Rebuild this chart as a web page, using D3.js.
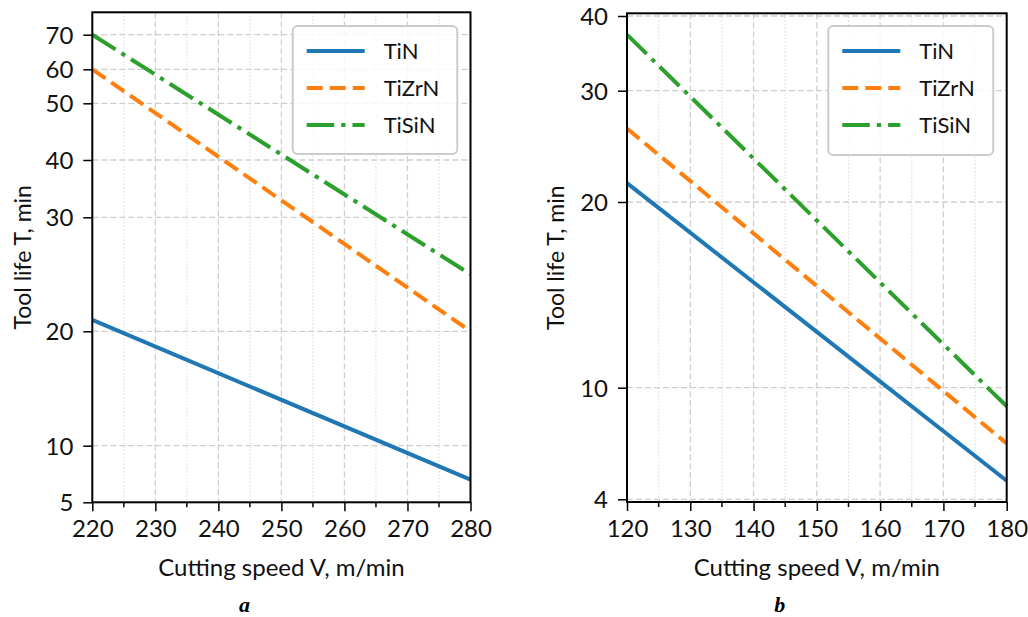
<!DOCTYPE html>
<html>
<head>
<meta charset="utf-8">
<script src="https://cdn.jsdelivr.net/npm/d3@7"></script>
<style>
  body { margin: 0; background: white; }
</style>
</head>
<body>
<div id="chart"></div>
<script>
/* Tool life vs cutting speed, two panels (a, b) */

// series names and colours (matplotlib tab10)
const seriesNames = ["TiN", "TiZrN", "TiSiN"];
const seriesColors = ["#1f77b4", "#ff7f0e", "#2ca02c"];
const seriesDash = [null, "16,7", "27.5,7,4.3,7"];

// panel a
const speedA = [220, 280];
const tinA = [21, 7];
const tizrnA = [60, 20];
const tisinA = [70, 25];
const xTicksA = [220, 230, 240, 250, 260, 270, 280];
const yTicksA = [5, 10, 20, 30, 40, 50, 60, 70];

// panel b
const speedB = [120, 180];
const tinB = [21.7, 5];
const tizrnB = [26.6, 7];
const tisinB = [37.5, 9];
const xTicksB = [120, 130, 140, 150, 160, 170, 180];
const yTicksB = [4, 10, 20, 30, 40];

const panelLabels = ["a", "b"];

const width = 1028, height = 617;

const svg = d3.select("#chart")
  .append("svg")
  .attr("width", width)
  .attr("height", height);

// the y axes are not evenly spaced, so each one is a piecewise scale
const panels = [
  {
    label: panelLabels[0],
    speed: speedA, values: [tinA, tizrnA, tisinA],
    xTicks: xTicksA, yTicks: yTicksA,
    left: 92.3, right: 470.5,
    yDomain: [5, 10, 20, 30, 40, 50, 60, 70, 76.5],
    yRange: [502.3, 445.7, 331.3, 217.3, 160, 103.3, 69.3, 34.7, 12.3],
    legend: { x: 292.7, y: 26, w: 164.6, h: 128 },
    yLabelX: 23
  },
  {
    label: panelLabels[1],
    speed: speedB, values: [tinB, tizrnB, tisinB],
    xTicks: xTicksB, yTicks: yTicksB,
    left: 627, right: 1006.7,
    yDomain: [3.855, 4, 10, 20, 30, 40, 40.36],
    yRange: [502, 499.3, 387.7, 202, 90.7, 16, 13.3],
    legend: { x: 828.3, y: 26, w: 165, h: 129 },
    yLabelX: 556
  }
];

const tickFont = "Lato, 'Open Sans', sans-serif";

for (const p of panels) {
  const top = p.yRange[p.yRange.length - 1];
  const bottom = p.yRange[0];

  const x = d3.scaleLinear().domain(d3.extent(p.xTicks)).range([p.left, p.right]);
  const y = d3.scaleLinear().domain(p.yDomain).range(p.yRange);

  const g = svg.append("g");

  const minorX = d3.range(p.xTicks[0] + 5, p.xTicks[p.xTicks.length - 1], 10);

  // minor vertical grid (dotted)
  g.append("g")
    .selectAll("line")
    .data(minorX)
    .join("line")
    .attr("x1", d => x(d)).attr("x2", d => x(d))
    .attr("y1", top).attr("y2", bottom)
    .attr("stroke", "#dddddd")
    .attr("stroke-width", 1.2)
    .attr("stroke-dasharray", "1.5,2");

  // major grid (dashed)
  g.append("g")
    .selectAll("line")
    .data(p.xTicks.slice(1, -1))
    .join("line")
    .attr("x1", d => x(d)).attr("x2", d => x(d))
    .attr("y1", top).attr("y2", bottom)
    .attr("stroke", "#cfcfcf")
    .attr("stroke-width", 1.3)
    .attr("stroke-dasharray", "6,3");

  g.append("g")
    .selectAll("line")
    .data(p.yTicks)
    .join("line")
    .attr("x1", p.left).attr("x2", p.right)
    .attr("y1", d => y(d)).attr("y2", d => y(d))
    .attr("stroke", "#cfcfcf")
    .attr("stroke-width", 1.3)
    .attr("stroke-dasharray", "6,3");

  // data lines
  const line = d3.line()
    .x(d => x(d[0]))
    .y(d => y(d[1]));

  g.append("g")
    .selectAll("path")
    .data(p.values)
    .join("path")
    .attr("d", v => line(p.speed.map((s, i) => [s, v[i]])))
    .attr("fill", "none")
    .attr("stroke", (v, i) => seriesColors[i])
    .attr("stroke-width", 4)
    .attr("stroke-dasharray", (v, i) => seriesDash[i]);

  // x axis
  const xAxis = g.append("g")
    .attr("transform", `translate(0,${bottom})`)
    .call(d3.axisBottom(x).tickValues(p.xTicks).tickSize(9).tickPadding(9).tickFormat(d3.format("d")));
  xAxis.append("g")
    .selectAll("line")
    .data(minorX)
    .join("line")
    .attr("x1", d => x(d)).attr("x2", d => x(d))
    .attr("y1", 0).attr("y2", 5)
    .attr("stroke", "black")
    .attr("stroke-width", 1.5);

  // y axis
  const yAxis = g.append("g")
    .attr("transform", `translate(${p.left},0)`)
    .call(d3.axisLeft(y).tickValues(p.yTicks).tickSize(9).tickPadding(10).tickFormat(d3.format("d")));

  for (const ax of [xAxis, yAxis]) {
    ax.select(".domain").remove();
    ax.selectAll(".tick line").attr("stroke", "black").attr("stroke-width", 1.5);
    ax.selectAll("text")
      .attr("fill", "#111")
      .style("font-family", tickFont)
      .style("font-size", "24px");
  }
  yAxis.selectAll("text").attr("dy", "0.36em");

  // frame
  g.append("rect")
    .attr("x", p.left).attr("y", top)
    .attr("width", p.right - p.left).attr("height", bottom - top)
    .attr("fill", "none")
    .attr("stroke", "black")
    .attr("stroke-width", 2);

  // axis labels
  g.append("text")
    .attr("x", (p.left + p.right) / 2)
    .attr("y", 576)
    .attr("text-anchor", "middle")
    .style("font-family", tickFont)
    .style("font-size", "24px")
    .attr("fill", "#111")
    .text("Cutting speed V, m/min");

  g.append("text")
    .attr("transform", `translate(${p.yLabelX},${(top + bottom) / 2}) rotate(-90)`)
    .attr("text-anchor", "middle")
    .attr("dy", "0.36em")
    .style("font-family", tickFont)
    .style("font-size", "23px")
    .attr("fill", "#111")
    .text("Tool life T, min");

  // panel letter
  g.append("text")
    .attr("x", (p.left + p.right) / 2 - 37)
    .attr("y", 612)
    .attr("text-anchor", "middle")
    .style("font-family", "'Liberation Serif', serif")
    .style("font-size", "22px")
    .style("font-weight", "bold")
    .style("font-style", "italic")
    .text(p.label);

  // legend
  const lg = g.append("g").attr("transform", `translate(${p.legend.x},${p.legend.y})`);
  lg.append("rect")
    .attr("width", p.legend.w).attr("height", p.legend.h)
    .attr("rx", 5)
    .attr("fill", "white").attr("fill-opacity", 0.8)
    .attr("stroke", "#cccccc")
    .attr("stroke-width", 2);

  const items = lg.selectAll("g.item")
    .data(seriesNames)
    .join("g")
    .attr("class", "item")
    .attr("transform", (d, i) => `translate(0,${25 + i * 37})`);

  items.append("line")
    .attr("x1", 14).attr("x2", 72)
    .attr("stroke", (d, i) => seriesColors[i])
    .attr("stroke-width", 4)
    .attr("stroke-dasharray", (d, i) => seriesDash[i]);

  items.append("text")
    .attr("x", 91)
    .attr("dy", "0.38em")
    .style("font-family", tickFont)
    .style("font-size", "22px")
    .attr("fill", "#111")
    .text(d => d);
}
</script>
</body>
</html>
